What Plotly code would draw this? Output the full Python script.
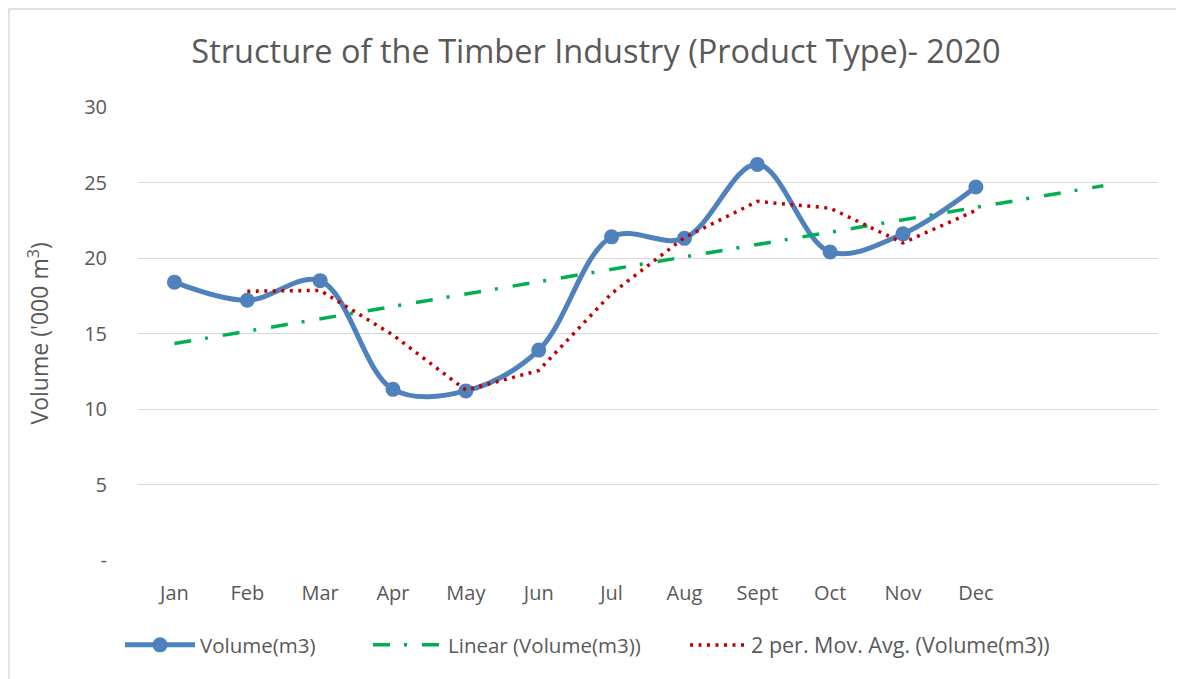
import numpy as np
import plotly.graph_objects as go

months = ["Jan", "Feb", "Mar", "Apr", "May", "Jun", "Jul", "Aug", "Sept", "Oct", "Nov", "Dec"]
volume = [18.4, 17.2, 18.5, 11.3, 11.2, 13.9, 21.4, 21.3, 26.2, 20.4, 21.6, 24.7]
y_ticks = [0, 5, 10, 15, 20, 25, 30]
y_tick_text = ["-", "5", "10", "15", "20", "25", "30"]
forecast_forward = 1.75  # periods the trend line is extended

x = np.arange(1, len(months) + 1)
vol = np.array(volume)

# linear trend
slope, intercept = np.polyfit(x, vol, 1)
x_trend = np.array([1.0, len(months) + forecast_forward])
y_trend = intercept + slope * x_trend

# 2 period moving average
ma = (vol[1:] + vol[:-1]) / 2
x_ma = x[1:]

TEXT = "#595959"
FONT = "Open Sans"

# page has an 8px body margin; figure is sized to fit the window
W, H = 1176, 671
L, R, T, B = 130, 26, 99, 119
PW, PH = W - L - R, H - T - B

fig = go.Figure()
fig.add_trace(go.Scatter(
    x=x, y=vol, name="Volume(m3)", mode="lines+markers", legend="legend",
    line=dict(color="#4F81BD", width=5, shape="spline", smoothing=1.0),
    marker=dict(size=15, color="#4F81BD"),
))
fig.add_trace(go.Scatter(
    x=x_trend, y=y_trend, name="Linear (Volume(m3))", mode="lines", legend="legend2",
    line=dict(color="#00B050", width=3.5, dash="17px,14px,3px,15px"),
))
fig.add_trace(go.Scatter(
    x=x_ma, y=ma, name="2 per. Mov. Avg. (Volume(m3))", mode="lines", legend="legend3",
    line=dict(color="#C00000", width=3.5, dash="3px,5.5px"),
))

leg_y = -(637 - (H - B)) / PH


def leg(px_left, iw, size=20.5):
    return dict(orientation="h", x=(px_left - L) / PW, xanchor="left",
                y=leg_y, yanchor="middle", bgcolor="rgba(0,0,0,0)",
                font=dict(size=size, color=TEXT, family=FONT), itemwidth=iw)


fig.update_layout(
    width=W, height=H,
    margin=dict(l=L, r=R, t=T, b=B),
    paper_bgcolor="white", plot_bgcolor="white",
    font=dict(family=FONT, color=TEXT, size=20),
    title=dict(text="Structure of the Timber Industry (Product Type)- 2020",
               x=(588 - L) / PW, xanchor="center", xref="paper",
               y=1 - 44 / H, yanchor="middle",
               font=dict(size=32.5, color=TEXT, family=FONT)),
    showlegend=True,
    legend=leg(117 - 5, 70),
    legend2=leg(365 - 5, 70),
    legend3=leg(682 - 5, 56, 21.5),
    xaxis=dict(range=[0.5, 14.5], tickvals=list(x), ticktext=months,
               showgrid=False, zeroline=False, showline=False,
               ticks="outside", ticklen=15, tickcolor="rgba(0,0,0,0)",
               tickfont=dict(size=20, color=TEXT)),
    yaxis=dict(range=[0, 30], tickvals=y_ticks, ticktext=y_tick_text,
               showgrid=True, gridcolor="#D9D9D9", gridwidth=1.3,
               zeroline=False, showline=False,
               ticks="outside", ticklen=26, tickcolor="rgba(0,0,0,0)",
               tickfont=dict(size=20, color=TEXT)),
    annotations=[dict(text="Volume ('000 m<sup>3</sup>)", textangle=-90,
                      xref="paper", yref="paper",
                      x=(30 - L) / PW, y=0.5, xanchor="center", yanchor="middle",
                      showarrow=False, font=dict(size=23, color=TEXT, family=FONT))],
)

fig.add_shape(type="rect", xref="paper", yref="paper",
              x0=(1 - L) / PW, x1=(W + 20 - L) / PW,
              y0=-(H + 20 - T - PH) / PH, y1=1 + (T - 1) / PH,
              line=dict(color="#D9D9D9", width=1.5), fillcolor="rgba(0,0,0,0)", layer="below")

fig.write_html("out.html")
